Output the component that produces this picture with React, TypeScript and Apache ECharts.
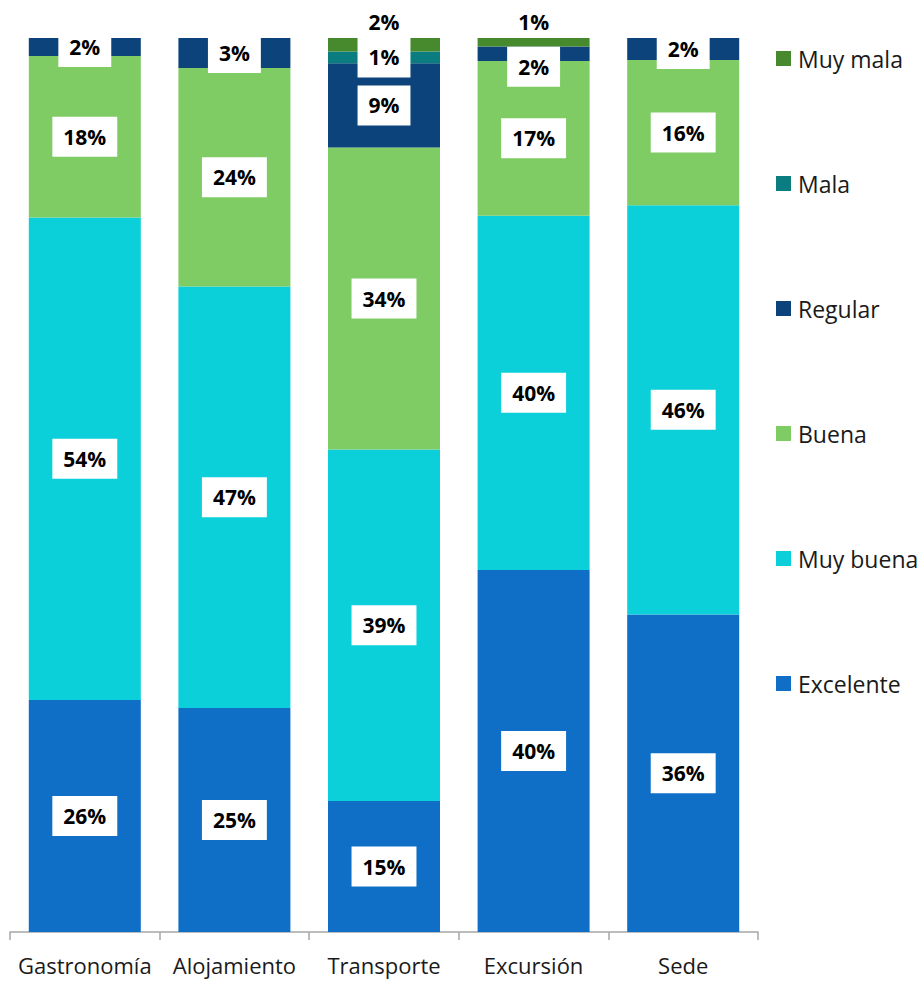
import React, { useEffect, useRef } from "react";
import * as echarts from "echarts";

const categories = ["Gastronomía", "Alojamiento", "Transporte", "Excursión", "Sede"];
const seriesNames = ["Excelente", "Muy buena", "Buena", "Regular", "Mala", "Muy mala"];
const excelente = [25.95, 25.06, 14.65, 40.49, 35.51];
const muyBuena = [53.96, 47.14, 39.31, 39.64, 45.79];
const buena = [18.08, 24.45, 33.78, 17.29, 16.25];
const regular = [2.01, 3.35, 9.43, 1.64, 2.45];
const mala = [0, 0, 1.31, 0, 0];
const muyMala = [0, 0, 1.52, 0.93, 0];
const colors = ["#0F6FC6", "#0BD0D9", "#7FCB64", "#0B437A", "#0B7C80", "#478A2E"];

const FONT = "'Open Sans', 'DejaVu Sans', sans-serif";

export default function App() {
  const ref = useRef<HTMLDivElement>(null);
  useEffect(() => {
    if (!ref.current) return;
    const chart = echarts.init(ref.current, null, { renderer: "svg" });
    const allValues = [excelente, muyBuena, buena, regular, mala, muyMala];
    const baseLabel = {
      show: true,
      position: "inside",
      formatter: (p: any) => `${Math.round(p.value)}%`,
      backgroundColor: "#ffffff",
      color: "#000000",
      fontWeight: "bold",
      fontSize: 21,
      lineHeight: 22,
      fontFamily: FONT,
      padding: [9, 11],
    };
    const series = allValues.map((vals, si) => ({
      name: seriesNames[si],
      type: "bar",
      stack: "total",
      barWidth: 112,
      itemStyle: { color: colors[si] },
      label:
        si === 5
          ? { ...baseLabel, position: "top", distance: 1, padding: [4, 11] }
          : baseLabel,
      data: vals.map((v, ci) => {
        const item: any = { value: v };
        if (v <= 0) item.label = { show: false };
        else if (si === 3 && ci === 3) item.label = { offset: [0, 13] };
        return item;
      }),
    }));
    chart.setOption({
      animation: false,
      grid: { left: 10, top: 38, width: 748, height: 894, containLabel: false },
      legend: {
        orient: "vertical",
        left: 771,
        top: 42,
        itemWidth: 15,
        itemHeight: 15,
        itemGap: 102,
        icon: "rect",
        data: [...seriesNames].reverse(),
        textStyle: {
          fontSize: 23,
          lineHeight: 22,
          color: "#1a1a1a",
          fontFamily: FONT,
          padding: [0, 0, 0, 2],
        },
      },
      xAxis: {
        type: "category",
        data: categories,
        axisLine: { lineStyle: { color: "#A6A6A6", width: 1.5 } },
        axisTick: { show: true, length: 8, lineStyle: { color: "#A6A6A6", width: 1.5 } },
        axisLabel: { fontSize: 22, color: "#1a1a1a", fontFamily: FONT, margin: 22, interval: 0 },
      },
      yAxis: { type: "value", min: 0, max: 100, show: false },
      series,
    });
    return () => chart.dispose();
  }, []);
  return (
    <div
      ref={ref}
      style={{ position: "absolute", left: 0, top: 0, width: 924, height: 981 }}
    />
  );
}
